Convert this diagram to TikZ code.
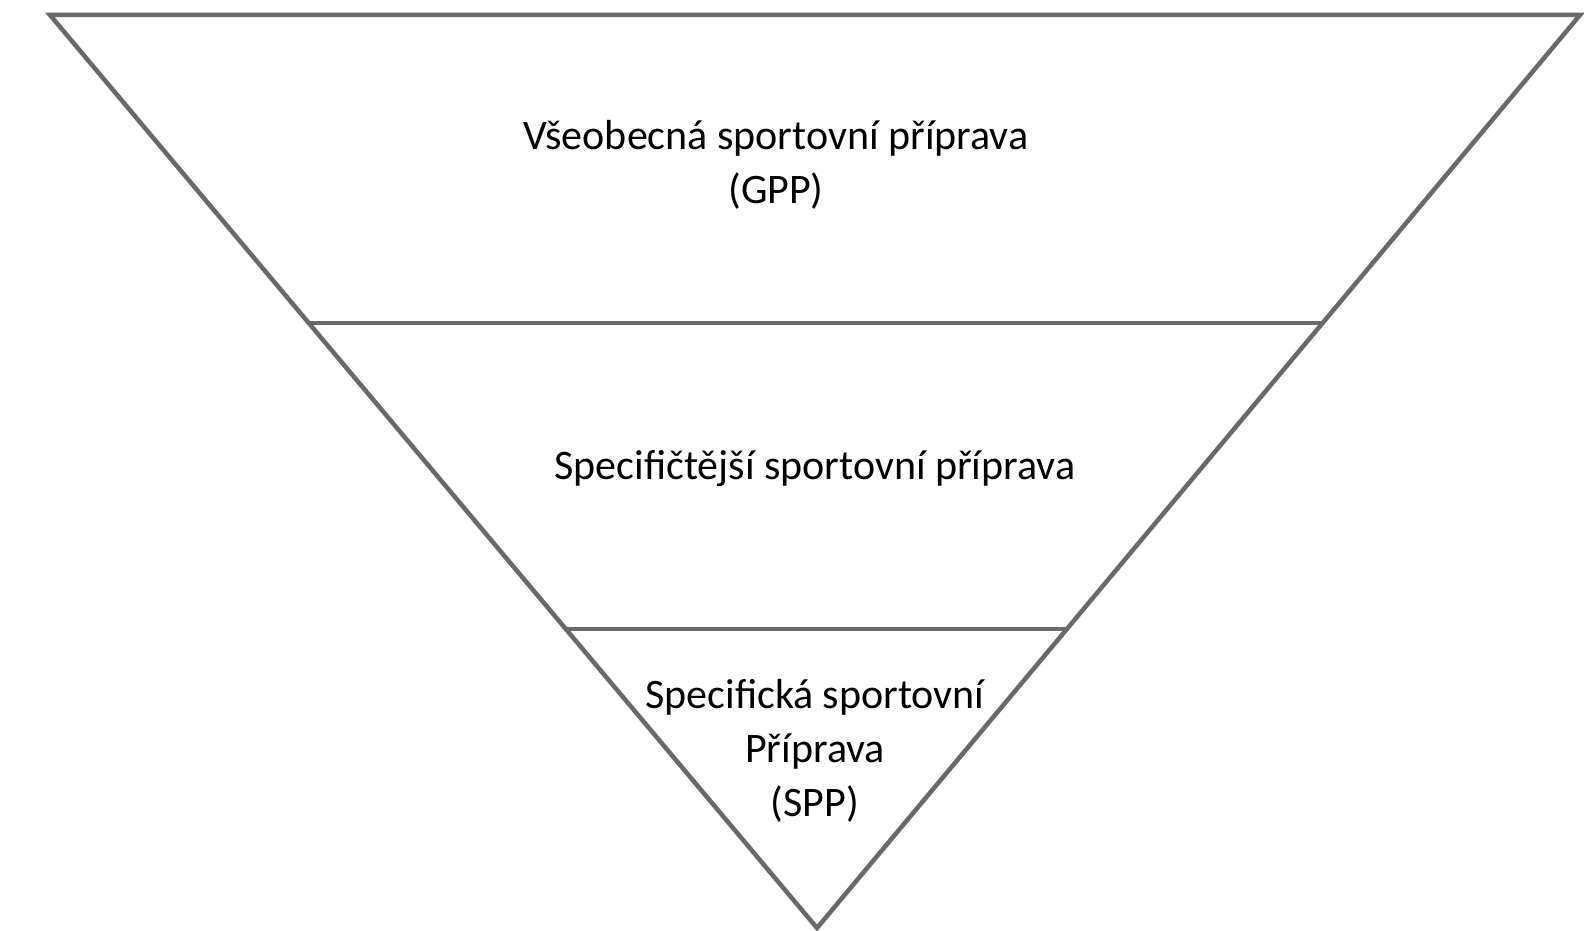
\documentclass[tikz,border=0pt]{standalone}
\usepackage{fontspec}
\setmainfont{Carlito}
\definecolor{edgegray}{RGB}{105,105,105}
\begin{document}
\begin{tikzpicture}[x=1pt,y=-1pt,
    edge/.style={line width=4.5pt, edgegray, line join=miter},
    label/.style={align=center, font=\fontsize{42}{54}\selectfont, inner sep=0pt}]
    \useasboundingbox (0,0) rectangle (1584,931);
    \draw[edge] (50,15) -- (1580,15) -- (817,928) -- cycle;
    \draw[edge] (309,323) -- (1323,323);
    \draw[edge] (566,629) -- (1067,629);
    \node[label] (gpp) at (776,165) {Všeobecná sportovní příprava\\(GPP)};
    \node[label] (mid) at (815,469) {Specifičtější sportovní příprava};
    \node[label] (spp) at (815,751) {Specifická sportovní\\Příprava\\(SPP)};
  \end{tikzpicture}
\end{document}
